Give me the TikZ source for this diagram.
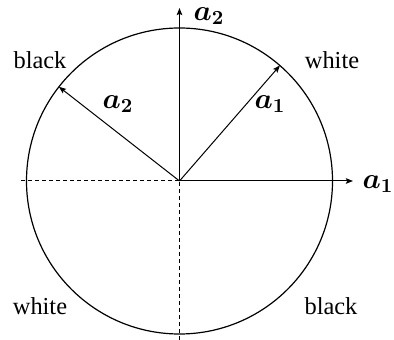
\documentclass[tikz,border=0pt]{standalone}
\usepackage{amsmath,bm}
\usepackage{fontspec}
\setmainfont{Liberation Serif}
\usetikzlibrary{arrows.meta}
\begin{document}
\begin{tikzpicture}[x=0.5pt,y=-0.5pt,
  axis/.style={line width=0.5pt,-{Stealth[length=3.6pt,width=2.8pt,inset=0.7pt]}},
  dashline/.style={line width=0.5pt,dash pattern=on 2pt off 1.5pt},
  vec/.style={line width=0.5pt,-{Stealth[length=3.6pt,width=2.8pt,inset=0.7pt]}},
  word/.style={font=\fontsize{12.2}{14}\selectfont,inner sep=0pt},
  mlab/.style={font=\fontsize{14.5}{16}\selectfont,inner sep=0pt}]
\useasboundingbox (0,0) rectangle (394,340);
\coordinate (O) at (179.5,181);
\node[circle,draw,line width=0.6pt,minimum size=153pt,inner sep=0pt] (C) at (O) {};
\coordinate (xend) at (353,181);
\coordinate (xstart) at (21,181);
\coordinate (yend) at (179.5,8);
\coordinate (ystart) at (179.5,340);
\coordinate (p1) at (279.9,65.5);
\coordinate (p2) at (58.9,86.8);
\draw[dashline] (xstart) -- (O);
\draw[dashline] (ystart) -- (O);
\draw[axis] (O) -- (xend);
\draw[axis] (O) -- (yend);
\draw[vec] (O) -- (p1);
\draw[vec] (O) -- (p2);
\node[mlab] (la1) at (378,184) {$\bm{a}_{\bm{1}}$};
\node[mlab] (la2) at (209,16) {$\bm{a}_{\bm{2}}$};
\node[mlab] (lv1) at (270,104) {$\bm{a}_{\bm{1}}$};
\node[mlab] (lv2) at (118,104) {$\bm{a}_{\bm{2}}$};
\node[word] (tl) at (40,60) {black};
\node[word] (tr) at (332,60) {white};
\node[word] (bl) at (40,306) {white};
\node[word] (br) at (331,306) {black};
\end{tikzpicture}
\end{document}
